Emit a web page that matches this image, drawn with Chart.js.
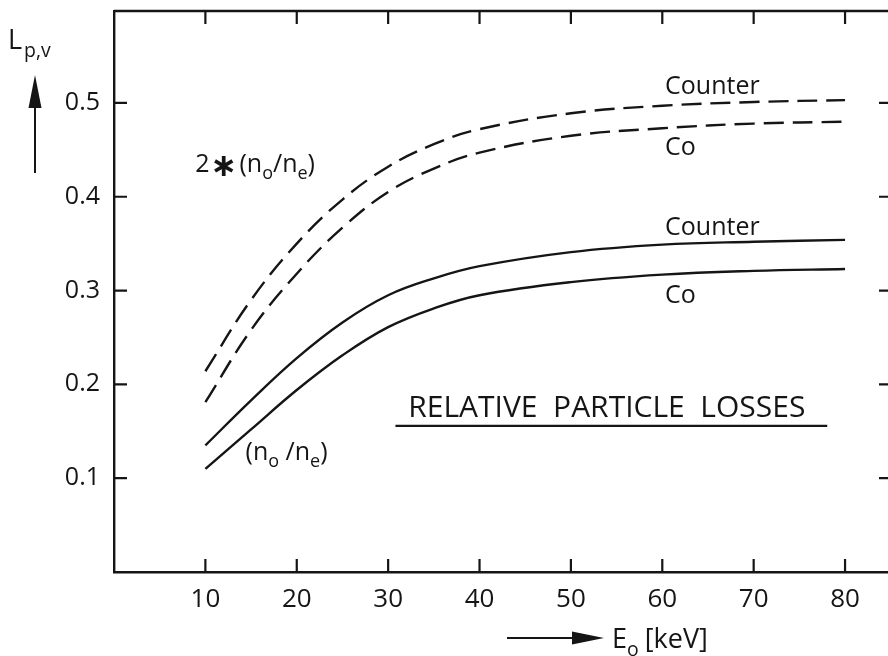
<!DOCTYPE html>
<html>
<head>
<meta charset="utf-8">
<script src="https://cdn.jsdelivr.net/npm/chart.js@4.4.1/dist/chart.umd.min.js"></script>
<style>
  html, body { margin: 0; padding: 0; background: #fff; overflow: hidden; }
  #wrap { width: 888px; height: 656px; }
</style>
</head>
<body>
<div id="wrap"><canvas id="chart" width="888" height="656"></canvas></div>
<script>
// Relative particle losses L_p,v vs E0 — co / counter injection

const ENERGY = [10, 15, 20, 25, 30, 35, 40, 50, 60, 70, 80];           // keV
const DOUBLE_COUNTER = [0.214, 0.290, 0.350, 0.397, 0.432, 0.456, 0.472, 0.489, 0.497, 0.501, 0.503];
const DOUBLE_CO      = [0.181, 0.258, 0.318, 0.367, 0.405, 0.430, 0.447, 0.465, 0.473, 0.478, 0.480];
const RATIO_COUNTER  = [0.135, 0.183, 0.228, 0.266, 0.295, 0.313, 0.326, 0.341, 0.349, 0.352, 0.354];
const RATIO_CO       = [0.110, 0.152, 0.194, 0.231, 0.261, 0.281, 0.295, 0.309, 0.317, 0.321, 0.323];

const X_TICKS = [10, 20, 30, 40, 50, 60, 70, 80];
const Y_TICKS = [0.1, 0.2, 0.3, 0.4, 0.5];

const INK = "#151515";
const FONT = "'Open Sans', 'DejaVu Sans', sans-serif";
const TICK_LEN = 13;

const pts = (ys) => ENERGY.map((x, i) => ({ x, y: ys[i] }));

// ===== 文本工具：带下标 =====
function drawParts(ctx, parts, x, y, size) {
  let cx = x;
  parts.forEach((p) => {
    const s = p.sub ? size * 0.72 : (p.size || size);
    ctx.font = (p.weight || "normal") + " " + s + "px " + (p.family || FONT);
    const dy = p.sub ? size * 0.28 : (p.dy || 0);
    ctx.fillText(p.t, cx, y + dy);
    cx += ctx.measureText(p.t).width + (p.gap || 0);
  });
}

function arrowHead(ctx, tipX, tipY, dir, len, half) {
  ctx.beginPath();
  if (dir === "up") {
    ctx.moveTo(tipX, tipY);
    ctx.lineTo(tipX - half, tipY + len);
    ctx.lineTo(tipX + half, tipY + len);
  } else {
    ctx.moveTo(tipX, tipY);
    ctx.lineTo(tipX - len, tipY - half);
    ctx.lineTo(tipX - len, tipY + half);
  }
  ctx.closePath();
  ctx.fill();
}

// 图中的注释文字（数据坐标）
const NOTES = [
  { x: 60.3, y: 0.509, parts: [{ t: "Counter" }] },
  { x: 60.3, y: 0.4446, parts: [{ t: "Co" }] },
  { x: 60.3, y: 0.359, parts: [{ t: "Counter" }] },
  { x: 60.3, y: 0.2868, parts: [{ t: "Co" }] },
  { x: 8.9, y: 0.4264, parts: [
      { t: "2", gap: 1 },
      { t: "\u2217", weight: "bold", size: 32, dy: 4, family: "'DejaVu Sans', sans-serif", gap: 2 },
      { t: "(n" }, { t: "o", sub: true }, { t: "/n" }, { t: "e", sub: true }, { t: ")" }] },
  { x: 14.4, y: 0.1194, parts: [
      { t: "(n" }, { t: "o", sub: true }, { t: " /n" }, { t: "e", sub: true }, { t: ")" }] },
];

const decorPlugin = {
  id: "decor",
  afterDraw(chart) {
    const { ctx, chartArea: a, scales: { x, y } } = chart;
    ctx.save();
    ctx.strokeStyle = INK;
    ctx.fillStyle = INK;
    ctx.lineWidth = 2.4;

    // 顶边框
    ctx.beginPath();
    ctx.moveTo(a.left, a.top);
    ctx.lineTo(a.right, a.top);
    ctx.stroke();

    // 内向刻度
    ctx.lineWidth = 2.2;
    ctx.beginPath();
    X_TICKS.forEach((v) => {
      const px = x.getPixelForValue(v);
      ctx.moveTo(px, a.bottom); ctx.lineTo(px, a.bottom - TICK_LEN);
      ctx.moveTo(px, a.top); ctx.lineTo(px, a.top + TICK_LEN);
    });
    Y_TICKS.forEach((v) => {
      const py = y.getPixelForValue(v);
      ctx.moveTo(a.left, py); ctx.lineTo(a.left + TICK_LEN, py);
      ctx.moveTo(a.right, py); ctx.lineTo(a.right - TICK_LEN + 4, py);
    });
    ctx.stroke();

    // 注释
    ctx.textAlign = "left";
    ctx.textBaseline = "alphabetic";
    NOTES.forEach((n) => {
      drawParts(ctx, n.parts, x.getPixelForValue(n.x), y.getPixelForValue(n.y), 25);
    });

    // RELATIVE PARTICLE LOSSES + 下划线
    const tx = x.getPixelForValue(32.2);
    ctx.font = "30px " + FONT;
    ctx.fillText("RELATIVE  PARTICLE  LOSSES", tx, y.getPixelForValue(0.1652), 399);
    ctx.lineWidth = 2.2;
    ctx.beginPath();
    ctx.moveTo(x.getPixelForValue(30.8), y.getPixelForValue(0.1557));
    ctx.lineTo(x.getPixelForValue(78.05), y.getPixelForValue(0.1557));
    ctx.stroke();

    // y 轴标题 L_p,v 和向上箭头
    drawParts(ctx, [{ t: "L", gap: 2 }, { t: "p,v", sub: true }], 8, 49, 27);
    ctx.lineWidth = 2;
    ctx.beginPath();
    ctx.moveTo(35, 173); ctx.lineTo(35, 100);
    ctx.stroke();
    arrowHead(ctx, 35, 75, "up", 33, 6.5);

    // x 轴标题 E_o [keV] 和向右箭头
    ctx.beginPath();
    ctx.moveTo(507, 638); ctx.lineTo(580, 638);
    ctx.stroke();
    arrowHead(ctx, 604, 638, "right", 32, 6.5);
    drawParts(ctx, [{ t: "E" }, { t: "o", sub: true, gap: 6 }, { t: "[keV]" }], 612, 648, 27);

    ctx.restore();
  },
};

function lineSet(label, ys, dashed) {
  return {
    label,
    data: pts(ys),
    borderColor: INK,
    borderWidth: 2.4,
    borderDash: dashed ? [20, 9] : [],
    pointRadius: 0,
    fill: false,
    tension: 0.4,
  };
}

new Chart(document.getElementById("chart").getContext("2d"), {
  type: "line",
  data: {
    datasets: [
      lineSet("2*(no/ne) Counter", DOUBLE_COUNTER, true),
      lineSet("2*(no/ne) Co", DOUBLE_CO, true),
      lineSet("(no/ne) Counter", RATIO_COUNTER, false),
      lineSet("(no/ne) Co", RATIO_CO, false),
    ],
  },
  options: {
    responsive: false,
    animation: false,
    layout: { padding: { left: 0, top: 11, right: 0, bottom: 0 } },
    plugins: { legend: { display: false }, tooltip: { enabled: false } },
    scales: {
      x: {
        type: "linear",
        min: 0,
        max: 84.7,
        afterBuildTicks: (s) => { s.ticks = X_TICKS.map((v) => ({ value: v })); },
        afterFit: (s) => { s.height = 84; s.paddingLeft = 0; s.paddingRight = 0; },
        grid: { display: false, drawTicks: false },
        border: { display: true, color: INK, width: 2.4 },
        ticks: { color: INK, font: { family: FONT, size: 26 }, padding: 12, maxRotation: 0 },
      },
      y: {
        type: "linear",
        min: 0,
        max: 0.598,
        afterBuildTicks: (s) => { s.ticks = Y_TICKS.map((v) => ({ value: v })); },
        afterFit: (s) => { s.width = 114; s.paddingTop = 0; s.paddingBottom = 0; },
        grid: { display: false, drawTicks: false },
        border: { display: true, color: INK, width: 2.4 },
        ticks: { color: INK, font: { family: FONT, size: 25 }, padding: 14,
                 callback: (v) => Number(v).toFixed(1) },
      },
    },
  },
  plugins: [decorPlugin],
});
</script>
</body>
</html>
